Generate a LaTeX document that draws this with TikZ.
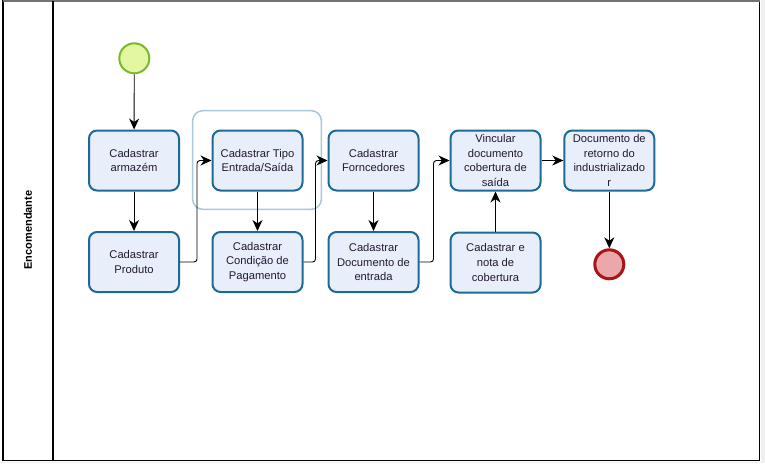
\documentclass[tikz,border=0pt]{standalone}
\usepackage{fontspec}
\setmainfont{Liberation Sans}
\usetikzlibrary{arrows.meta}
\definecolor{taskfill}{HTML}{E9EEFB}
\definecolor{taskdraw}{HTML}{1E6A97}
\definecolor{txt}{HTML}{221A33}
\definecolor{grpdraw}{HTML}{A8CAD8}
\definecolor{startfill}{HTML}{E3F6A2}
\definecolor{startdraw}{HTML}{7CB82A}
\definecolor{endfill}{HTML}{EBA8AA}
\definecolor{enddraw}{HTML}{A8141A}
\tikzset{
  task/.style={draw=taskdraw, fill=taskfill, line width=2pt, rounded corners=8pt,
    minimum width=90pt, minimum height=60pt, inner sep=0pt, align=center,
    text=txt, font=\fontsize{11.2}{14.7}\selectfont},
  conn/.style={draw=black, line width=0.9pt, rounded corners=3pt,
    -{Stealth[length=11pt,width=10pt,inset=3.5pt]}},
  startev/.style={circle, draw=startdraw, fill=startfill, line width=2pt, minimum size=30pt, inner sep=0pt},
  endev/.style={circle, draw=enddraw, fill=endfill, line width=3pt, minimum size=29pt, inner sep=0pt},
  grp/.style={draw=grpdraw, line width=1.5pt, rounded corners=10pt}
}
\begin{document}
\begin{tikzpicture}[x=1pt,y=-1pt]
\useasboundingbox (0,0) rectangle (765,463);
\fill[white] (0,0) rectangle (765,463);
\fill[black!6] (761,0) rectangle (765,463);
\fill[black!6] (0,462) rectangle (765,463);
% pool frame
\draw[line width=1.3pt] (3,1) rectangle (759.5,460.5);
\draw[line width=1.3pt, black!55] (3,1) -- (759.5,1);
\draw[line width=1.3pt] (53,1) -- (53,460.5);
\node[rotate=90, font=\fontsize{11}{13}\selectfont\bfseries, text=black] (lane) at (28,230) {Encomendante};
% group
\draw[grp] (192.7,110.7) rectangle (321.3,209.3);
% events
\node[startev] (start) at (134.3,58.3) {};
\node[endev] (fim) at (609.3,264.3) {};
% tasks
\node[task] (arm) at (134,160.5) {Cadastrar\\armazém};
\node[task] (prod) at (134,262) {Cadastrar\\Produto};
\node[task] (tipo) at (257.5,160.5) {Cadastrar Tipo\\Entrada/Saída};
\node[task] (cond) at (257.5,262) {Cadastrar\\Condição de\\Pagamento};
\node[task] (forn) at (373.5,160.5) {Cadastrar\\Forncedores};
\node[task] (docent) at (373.5,262) {Cadastrar\\Documento de\\entrada};
\node[task] (vinc) at (495.5,160.5) {Vincular\\documento\\cobertura de\\saída};
\node[task] (nota) at (495.5,262.5) {Cadastrar e\\nota de\\cobertura};
\node[task] (ret) at (609.3,160.5) {Documento de\\retorno do\\industrializado\\r};
% connectors
\draw[conn] (start) -- (arm);
\draw[conn] (arm) -- (prod);
\draw[conn] (prod.east) -- ++(17,0) |- (tipo.west);
\draw[conn] (tipo) -- (cond);
\draw[conn] (cond.east) -- ++(12,0) |- (forn.west);
\draw[conn] (forn) -- (docent);
\draw[conn] (docent.east) -- ++(14,0) |- (vinc.west);
\draw[conn] (nota) -- (vinc);
\draw[conn] (vinc) -- (ret);
\draw[conn] (ret) -- (fim);
\end{tikzpicture}
\end{document}
